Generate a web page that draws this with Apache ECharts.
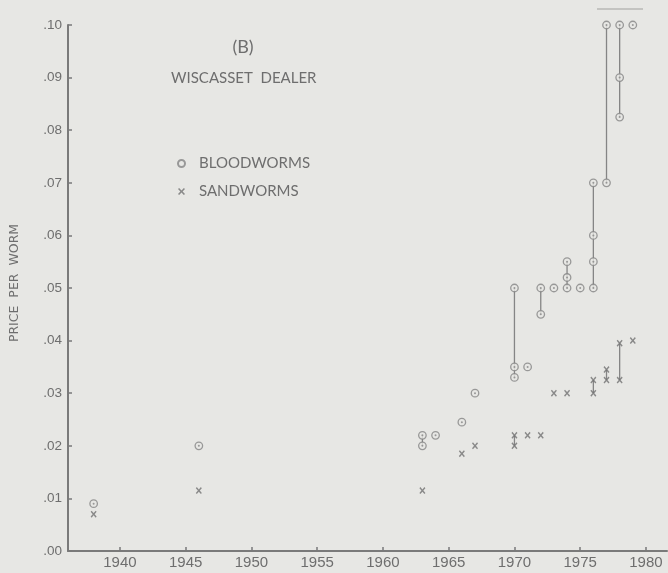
<!DOCTYPE html>
<html>
<head>
<meta charset="utf-8">
<script src="https://cdn.jsdelivr.net/npm/echarts@6/dist/echarts.min.js"></script>
<style>
html,body{margin:0;padding:0;background:#e7e7e4;}
#c{width:668px;height:573px;}
</style>
</head>
<body>
<div id="c"></div>
<script>
// ---- data ----
const bloodYears  = [1938, 1946, 1963, 1963, 1964, 1966, 1967, 1970, 1970, 1970, 1971, 1972, 1972, 1973, 1974, 1974, 1974, 1975, 1976, 1976, 1976, 1976, 1977, 1977, 1978, 1978, 1978, 1979];
const bloodPrices = [0.009, 0.020, 0.020, 0.022, 0.022, 0.0245, 0.030, 0.033, 0.035, 0.050, 0.035, 0.045, 0.050, 0.050, 0.050, 0.052, 0.055, 0.050, 0.050, 0.055, 0.060, 0.070, 0.070, 0.100, 0.0825, 0.090, 0.100, 0.100];
const sandYears   = [1938, 1946, 1963, 1966, 1967, 1970, 1970, 1971, 1972, 1973, 1974, 1976, 1976, 1977, 1977, 1978, 1978, 1979];
const sandPrices  = [0.007, 0.0115, 0.0115, 0.0185, 0.020, 0.020, 0.022, 0.022, 0.022, 0.030, 0.030, 0.030, 0.0325, 0.0325, 0.0345, 0.0325, 0.0395, 0.040];
const xTicks = [1940, 1945, 1950, 1955, 1960, 1965, 1970, 1975, 1980];
const yTicks = [0, 0.01, 0.02, 0.03, 0.04, 0.05, 0.06, 0.07, 0.08, 0.09, 0.10];

// ---- derived ----
function pairs(xs, ys){ return xs.map((x,i)=>[x, ys[i]]); }
function ranges(xs, ys){
  const m = {};
  xs.forEach((x,i)=>{ if(!m[x]) m[x]=[]; m[x].push(ys[i]); });
  const out = [];
  Object.keys(m).forEach(k=>{ const v=m[k]; if(v.length>1) out.push([+k, Math.min(...v), Math.max(...v)]); });
  return out;
}
const bloodPts = pairs(bloodYears, bloodPrices);
const sandPts = pairs(sandYears, sandPrices);
const rangeData = ranges(bloodYears, bloodPrices).concat(ranges(sandYears, sandPrices));

const BG = '#e7e7e4';
const MARK = '#858585';
const TXT = '#6e6e6e';
const crossPath = 'path://M0,1.6L1.6,0L5,3.4L8.4,0L10,1.6L6.6,5L10,8.4L8.4,10L5,6.6L1.6,10L0,8.4L3.4,5Z';

const chart = echarts.init(document.getElementById('c'), null, {renderer:'canvas'});
chart.setOption({
  backgroundColor: BG,
  animation: false,
  grid: {left: 68, right: 1, top: 25, bottom: 22},
  xAxis: {
    type: 'value', min: 1936.05, max: 1981.6,
    splitLine: {show: false},
    axisLine: {lineStyle: {color: '#7a7a7a', width: 2}},
    axisTick: {inside: true, length: 4, customValues: xTicks, lineStyle: {color: '#7a7a7a', width: 1.5}},
    axisLabel: {customValues: xTicks, margin: 4, fontSize: 15, color: TXT, fontFamily: 'Liberation Sans',
      formatter: v => String(Math.round(v))}
  },
  yAxis: {
    type: 'value', min: 0, max: 0.1,
    splitLine: {show: false},
    axisLine: {show: true, lineStyle: {color: '#7a7a7a', width: 2}},
    axisTick: {show: true, inside: true, length: 4, customValues: yTicks, lineStyle: {color: '#7a7a7a', width: 1.5}},
    axisLabel: {customValues: yTicks, margin: 6, fontSize: 13.5, color: TXT, fontFamily: 'Liberation Sans',
      formatter: v => v.toFixed(2).replace(/^0/, '')}
  },
  legend: {
    orient: 'vertical', left: 172, top: 151,
    itemWidth: 25, itemHeight: 7, itemGap: 13,
    data: ['BLOODWORMS', 'SANDWORMS'],
    textStyle: {fontFamily: 'Lato', fontSize: 15, color: TXT, padding: [0,0,0,0]}
  },
  graphic: [
    {type: 'text', style: {text: '(B)', x: 243, y: 47, align: 'center', verticalAlign: 'middle', fontFamily: 'Lato', fontSize: 18, fill: TXT}},
    {type: 'text', style: {text: 'WISCASSET  DEALER', x: 171, y: 78, align: 'left', verticalAlign: 'middle', fontFamily: 'Lato', fontSize: 15, fill: TXT}},
    {type: 'text', rotation: Math.PI/2, x: 15, y: 283, style: {text: 'PRICE  PER  WORM', align: 'center', verticalAlign: 'middle', fontFamily: 'DejaVu Sans', fontSize: 12.5, fill: TXT}},
    {type: 'line', shape: {x1: 597, y1: 9, x2: 643, y2: 9}, style: {stroke: '#b8b8b6', lineWidth: 1.5}}
  ],
  series: [
    {
      type: 'custom', silent: true, z: 1,
      data: rangeData,
      renderItem: function(params, api){
        const p1 = api.coord([api.value(0), api.value(1)]);
        const p2 = api.coord([api.value(0), api.value(2)]);
        return {type: 'line', shape: {x1: p1[0], y1: p1[1], x2: p2[0], y2: p2[1]}, style: {stroke: MARK, lineWidth: 1.3}};
      }
    },
    {
      name: 'BLOODWORMS', type: 'scatter', z: 3,
      data: bloodPts, symbol: 'circle', symbolSize: 7.5,
      itemStyle: {color: BG, borderColor: MARK, borderWidth: 1.3}
    },
    {
      type: 'scatter', z: 4, silent: true,
      data: bloodPts, symbol: 'circle', symbolSize: 2,
      itemStyle: {color: MARK}
    },
    {
      name: 'SANDWORMS', type: 'scatter', z: 3,
      data: sandPts, symbol: crossPath, symbolSize: [6, 7],
      itemStyle: {color: '#727272'}
    }
  ]
});
</script>
</body>
</html>
